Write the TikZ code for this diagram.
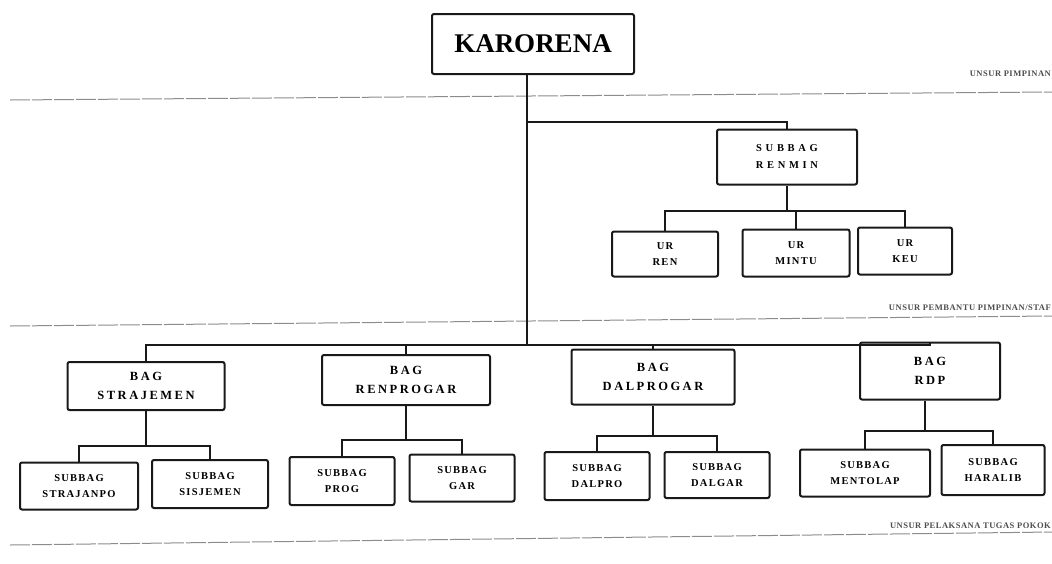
\documentclass[tikz,border=0pt]{standalone}
\usepackage{fontspec}
\setmainfont{Liberation Serif}
\newfontfamily\subfont[LetterSpace=12]{Liberation Serif}
\newfontfamily\bagfont[LetterSpace=20]{Liberation Serif}
\newfontfamily\renfont[LetterSpace=35]{Liberation Serif}
\newfontfamily\labfont[LetterSpace=6]{Liberation Serif}
\begin{document}
\begin{tikzpicture}[x=1pt,y=-1pt,
  box/.style={draw=black!90,line width=2pt,rounded corners=2pt,fill=white,align=center,font=\subfont\bfseries\fontsize{10.5}{16}\selectfont,inner sep=0pt},
  bagbox/.style={box,font=\bagfont\bfseries\fontsize{12.5}{19}\selectfont},
  renbox/.style={box,font=\renfont\bfseries\fontsize{10.5}{17}\selectfont},
  conn/.style={draw=black!90,line width=1.6pt},
  sepline/.style={draw=black!45,line width=1pt,dash pattern=on 20pt off 2pt},
  seplabel/.style={font=\labfont\bfseries\fontsize{8.5}{9}\selectfont,text=black!70,anchor=south east,inner sep=1pt}]
\useasboundingbox (0,0) rectangle (1052,563);
% separator lines
\draw[sepline] (10,100) -- (1052,92);
\draw[sepline] (10,326) -- (1052,316);
\draw[sepline] (10,545) -- (1052,532);
\node[seplabel] (l1) at (1052,78) {UNSUR PIMPINAN};
\node[seplabel] (l2) at (1052,312) {UNSUR PEMBANTU PIMPINAN/STAF};
\node[seplabel] (l3) at (1052,530) {UNSUR PELAKSANA TUGAS POKOK};
% nodes
\node[box,minimum width=202pt,minimum height=60pt,font=\bfseries\fontsize{27}{30}\selectfont] (karo) at (533,44) {KARORENA};
\node[renbox,minimum width=140pt,minimum height=55pt] (renmin) at (787,157) {SUBBAG\\RENMIN};
\node[box,minimum width=106pt,minimum height=45pt] (urren) at (665,254) {UR\\REN};
\node[box,minimum width=107pt,minimum height=47pt] (urmintu) at (796,253) {UR\\MINTU};
\node[box,minimum width=94pt,minimum height=47pt] (urkeu) at (905,251) {UR\\KEU};
\node[bagbox,minimum width=157pt,minimum height=48pt] (stra) at (146,386) {BAG\\STRAJEMEN};
\node[bagbox,minimum width=168pt,minimum height=50pt] (renp) at (406,380) {BAG\\RENPROGAR};
\node[bagbox,minimum width=163pt,minimum height=55pt] (dalp) at (653,377) {BAG\\DALPROGAR};
\node[bagbox,minimum width=140pt,minimum height=57pt] (rdp) at (930,371) {BAG\\RDP};
\node[box,minimum width=118pt,minimum height=47pt] (s1) at (79,486) {SUBBAG\\STRAJANPO};
\node[box,minimum width=116pt,minimum height=48pt] (s2) at (210,484) {SUBBAG\\SISJEMEN};
\node[box,minimum width=105pt,minimum height=48pt] (p1) at (342,481) {SUBBAG\\PROG};
\node[box,minimum width=105pt,minimum height=47pt] (p2) at (462,478) {SUBBAG\\GAR};
\node[box,minimum width=105pt,minimum height=48pt] (d1) at (597,476) {SUBBAG\\DALPRO};
\node[box,minimum width=105pt,minimum height=46pt] (d2) at (717,475) {SUBBAG\\DALGAR};
\node[box,minimum width=130pt,minimum height=47pt] (r1) at (865,473) {SUBBAG\\MENTOLAP};
\node[box,minimum width=103pt,minimum height=50pt] (r2) at (993,470) {SUBBAG\\HARALIB};
% bus coordinates
\coordinate (top) at (527,74);
\coordinate (rbr) at (527,122);
\coordinate (bus) at (527,345);
\coordinate (rbus) at (787,211);
\coordinate (sbus) at (146,446);
\coordinate (pbus) at (406,440);
\coordinate (dbus) at (653,436);
\coordinate (qbus) at (925,431);
% connectors
\draw[conn] (top) -- (bus);
\draw[conn] (rbr) -| (renmin.north);
\draw[conn] (renmin.south) -- (rbus);
\draw[conn] (urren.north) |- (rbus) -| (urkeu.north);
\draw[conn] (urmintu.north) -- (urmintu.north |- rbus);
\draw[conn] (stra.north) |- (bus) -| (rdp.north);
\draw[conn] (renp.north) -- (renp.north |- bus);
\draw[conn] (dalp.north) -- (dalp.north |- bus);
\draw[conn] (stra.south) -- (sbus);
\draw[conn] (s1.north) |- (sbus) -| (s2.north);
\draw[conn] (renp.south) -- (pbus);
\draw[conn] (p1.north) |- (pbus) -| (p2.north);
\draw[conn] (dalp.south) -- (dbus);
\draw[conn] (d1.north) |- (dbus) -| (d2.north);
\draw[conn] (rdp.south -| qbus) -- (qbus);
\draw[conn] (r1.north) |- (qbus) -| (r2.north);
\end{tikzpicture}
\end{document}
